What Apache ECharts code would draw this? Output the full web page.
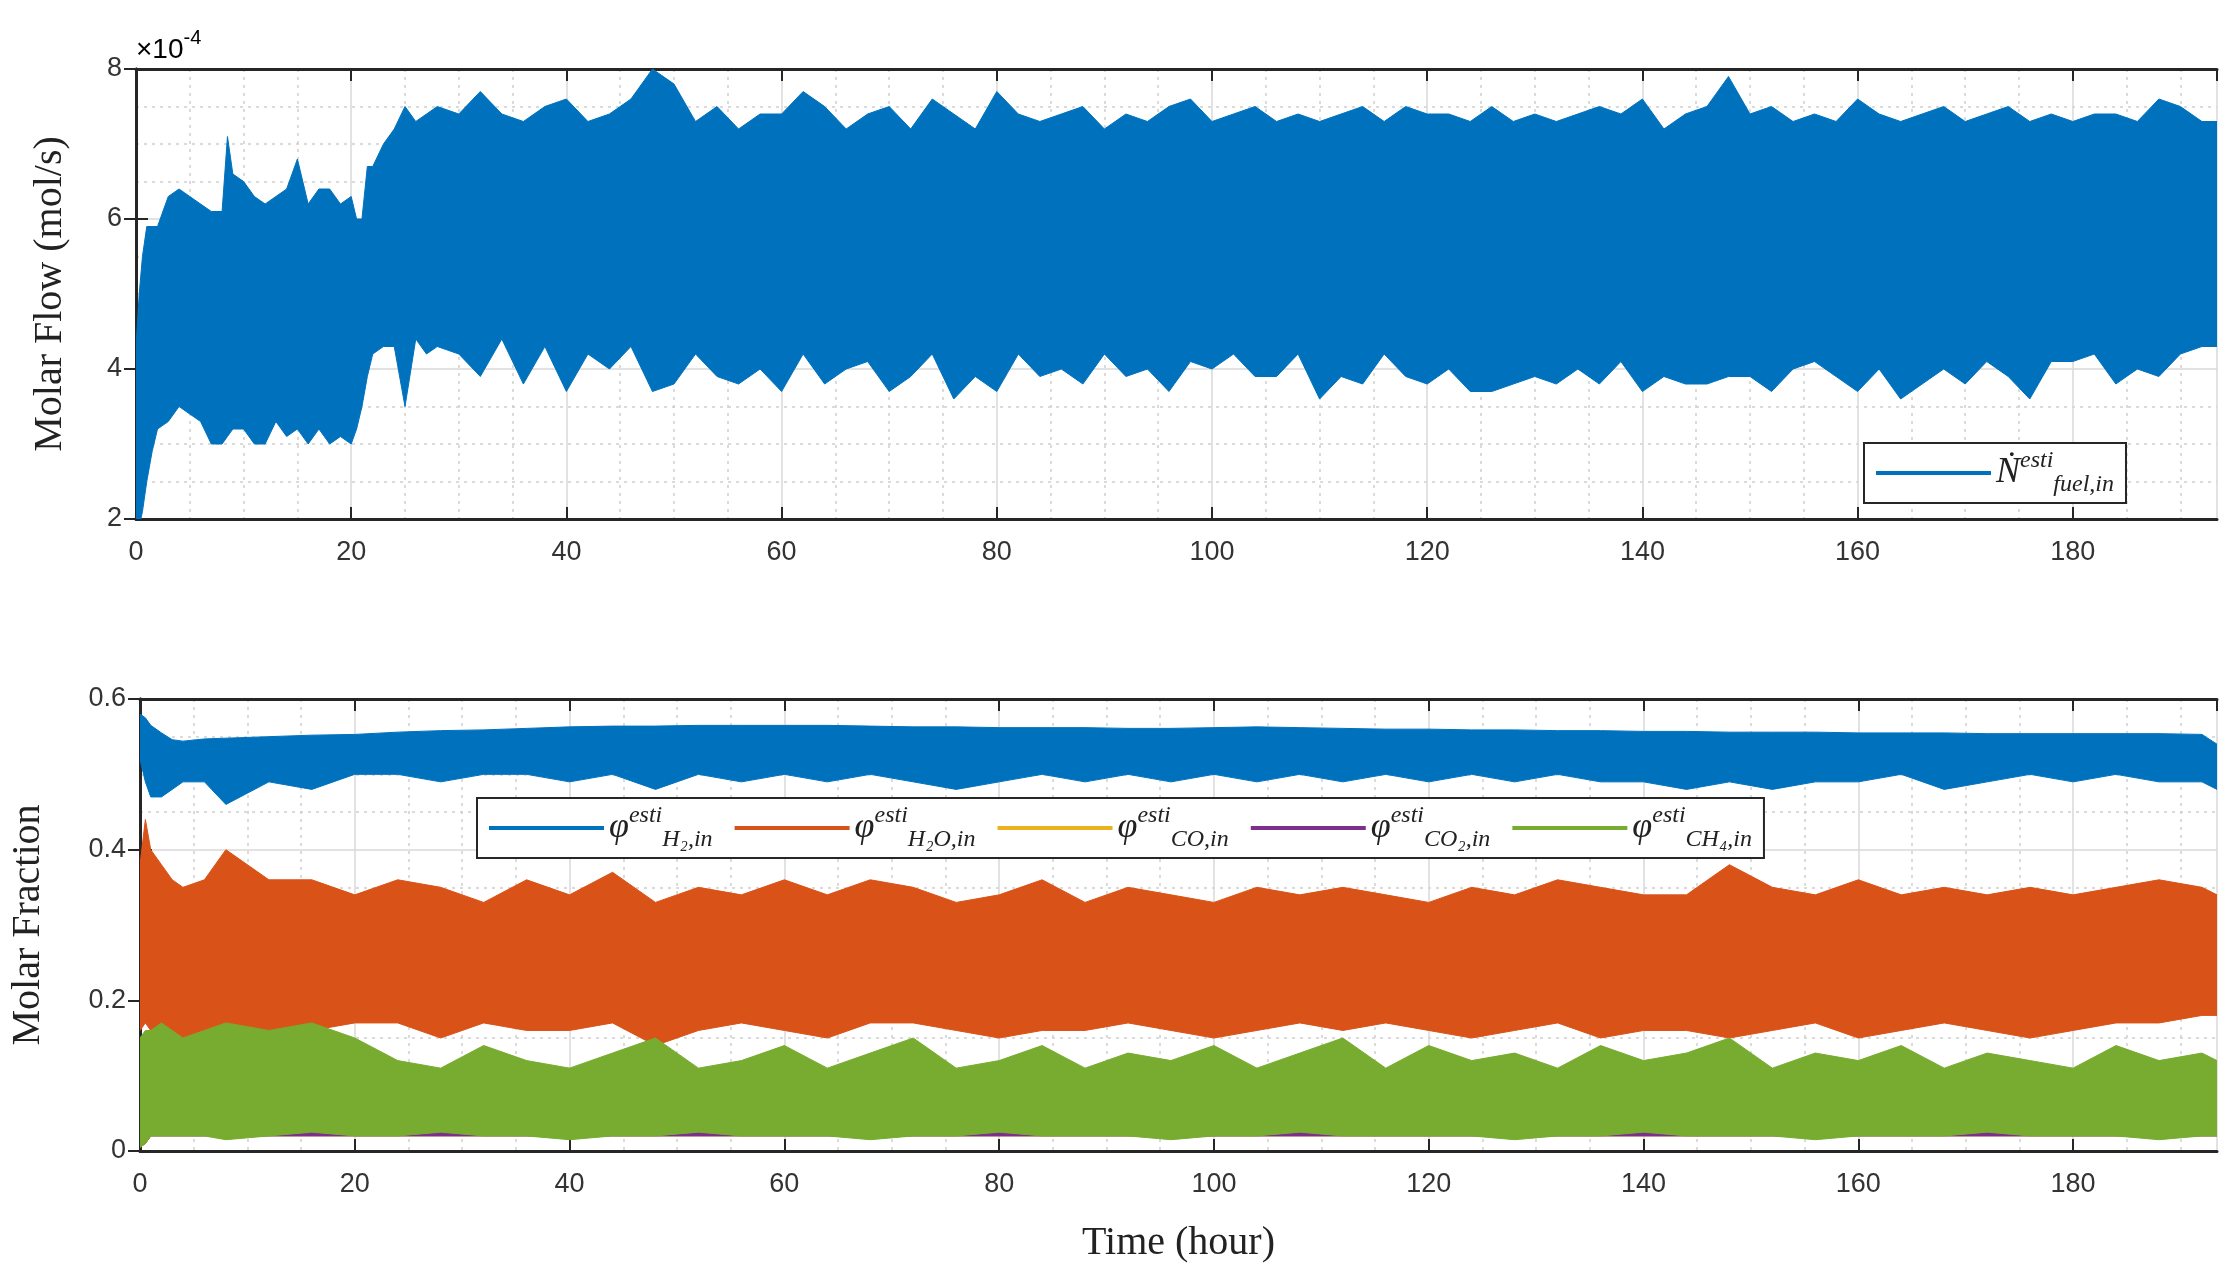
<!DOCTYPE html>
<html>
<head>
<meta charset="utf-8">
<script src="https://cdn.jsdelivr.net/npm/echarts@6/dist/echarts.min.js"></script>
<style>
html,body{margin:0;padding:0;background:#fff;}
#chart{width:2236px;height:1279px;}
</style>
</head>
<body>
<div id="chart"></div>
<script>
// top panel: fuel molar flow envelope (x 1e-4 mol/s)
var tFuel=[0,0.3,0.6,1,1.5,2,3,4,5,6,7,8,8.5,9,10,11,12,13,14,15,16,17,18,19,20,20.5,21,21.5,22,23,24,25,26,27,
28,30,32,34,36,38,40,42,44,46,48,50,52,54,56,58,60,62,64,66,68,70,72,74,76,78,80,82,84,86,88,90,92,94,96,98,
100,102,104,106,108,110,112,114,116,118,120,122,124,126,128,130,132,134,136,138,140,142,144,146,148,150,152,154,156,158,
160,162,164,166,168,170,172,174,176,178,180,182,184,186,188,190,192,193.4];
var fuelHi=[4.3,5.0,5.5,5.9,5.9,5.9,6.3,6.4,6.3,6.2,6.1,6.1,7.1,6.6,6.5,6.3,6.2,6.3,6.4,6.8,6.2,6.4,6.4,6.2,6.3,6.0,6.0,6.7,6.7,7.0,7.2,7.5,7.3,7.4,
7.5,7.4,7.7,7.4,7.3,7.5,7.6,7.3,7.4,7.6,8.0,7.8,7.3,7.5,7.2,7.4,7.4,7.7,7.5,7.2,7.4,7.5,7.2,7.6,7.4,7.2,7.7,7.4,7.3,7.4,7.5,7.2,7.4,7.3,7.5,7.6,
7.3,7.4,7.5,7.3,7.4,7.3,7.4,7.5,7.3,7.5,7.4,7.4,7.3,7.5,7.3,7.4,7.3,7.4,7.5,7.4,7.6,7.2,7.4,7.5,7.9,7.4,7.5,7.3,7.4,7.3,
7.6,7.4,7.3,7.4,7.5,7.3,7.4,7.5,7.3,7.4,7.3,7.4,7.4,7.3,7.6,7.5,7.3,7.3];
var fuelLo=[2.0,1.9,2.1,2.5,2.9,3.2,3.3,3.5,3.4,3.3,3.0,3.0,3.1,3.2,3.2,3.0,3.0,3.3,3.1,3.2,3.0,3.2,3.0,3.1,3.0,3.2,3.5,3.9,4.2,4.3,4.3,3.5,4.4,4.2,
4.3,4.2,3.9,4.4,3.8,4.3,3.7,4.2,4.0,4.3,3.7,3.8,4.2,3.9,3.8,4.0,3.7,4.2,3.8,4.0,4.1,3.7,3.9,4.2,3.6,3.9,3.7,4.2,3.9,4.0,3.8,4.2,3.9,4.0,3.7,4.1,
4.0,4.2,3.9,3.9,4.2,3.6,3.9,3.8,4.2,3.9,3.8,4.0,3.7,3.7,3.8,3.9,3.8,4.0,3.8,4.1,3.7,3.9,3.8,3.8,3.9,3.9,3.7,4.0,4.1,3.9,
3.7,4.0,3.6,3.8,4.0,3.8,4.1,3.9,3.6,4.1,4.1,4.2,3.8,4.0,3.9,4.2,4.3,4.3];

// bottom panel: molar fraction envelopes
var tFrac=[0,0.5,1,2,3,4,6,8,12,16,20,24,28,32,36,40,44,48,52,56,60,64,68,72,76,80,84,88,92,96,100,104,108,112,116,120,
124,128,132,136,140,144,148,152,156,160,164,168,172,176,180,184,188,192,193.4];
var h2Hi=[0.58,0.575,0.565,0.555,0.546,0.544,0.547,0.548,0.55,0.552,0.553,0.556,0.558,0.559,0.561,0.563,0.564,0.564,0.565,0.565,0.565,0.565,0.564,0.563,0.563,0.562,0.562,0.562,0.561,0.561,0.562,0.563,0.562,0.561,0.56,0.56,
0.559,0.559,0.558,0.558,0.557,0.557,0.556,0.556,0.556,0.555,0.555,0.555,0.554,0.554,0.554,0.554,0.554,0.553,0.54];
var h2Lo=[0.52,0.49,0.47,0.47,0.48,0.49,0.49,0.46,0.49,0.48,0.5,0.5,0.49,0.5,0.5,0.49,0.5,0.48,0.5,0.49,0.5,0.49,0.5,0.49,0.48,0.49,0.5,0.49,0.5,0.49,0.5,0.49,0.5,0.49,0.5,0.49,
0.5,0.49,0.5,0.49,0.49,0.48,0.49,0.48,0.49,0.49,0.5,0.48,0.49,0.5,0.49,0.5,0.49,0.49,0.48];
var h2oHi=[0.38,0.44,0.4,0.38,0.36,0.35,0.36,0.4,0.36,0.36,0.34,0.36,0.35,0.33,0.36,0.34,0.37,0.33,0.35,0.34,0.36,0.34,0.36,0.35,0.33,0.34,0.36,0.33,0.35,0.34,0.33,0.35,0.34,0.35,0.34,0.33,
0.35,0.34,0.36,0.35,0.34,0.34,0.38,0.35,0.34,0.36,0.34,0.35,0.34,0.35,0.34,0.35,0.36,0.35,0.34];
var h2oLo=[0.16,0.17,0.16,0.16,0.15,0.15,0.16,0.16,0.15,0.16,0.17,0.17,0.15,0.17,0.16,0.16,0.17,0.14,0.16,0.17,0.16,0.15,0.17,0.17,0.16,0.15,0.16,0.16,0.17,0.16,0.15,0.16,0.17,0.16,0.17,0.16,
0.15,0.16,0.17,0.15,0.16,0.16,0.15,0.16,0.17,0.15,0.16,0.17,0.16,0.15,0.16,0.17,0.17,0.18,0.18];
var coHi=[0.14,0.15,0.15,0.15,0.14,0.14,0.14,0.14,0.14,0.14,0.14,0.11,0.105,0.105,0.105,0.11,0.105,0.105,0.105,0.105,0.105,0.105,0.11,0.105,0.105,0.105,0.105,0.105,0.105,0.105,0.105,0.11,0.105,0.105,0.105,0.105,
0.105,0.11,0.105,0.105,0.105,0.105,0.105,0.105,0.105,0.105,0.105,0.105,0.105,0.105,0.105,0.105,0.105,0.105,0.1];
var coLo=[0.005,0.01,0.02,0.02,0.02,0.02,0.02,0.02,0.02,0.02,0.02,0.02,0.02,0.02,0.02,0.02,0.02,0.02,0.02,0.02,0.02,0.02,0.02,0.02,0.02,0.02,0.02,0.02,0.02,0.02,0.02,0.02,0.02,0.02,0.02,0.02,
0.02,0.02,0.02,0.02,0.02,0.02,0.02,0.02,0.02,0.02,0.02,0.02,0.02,0.02,0.02,0.02,0.02,0.02,0.02];
var co2Hi=[0.08,0.08,0.08,0.08,0.08,0.08,0.08,0.08,0.08,0.08,0.08,0.08,0.08,0.08,0.08,0.08,0.08,0.08,0.08,0.08,0.08,0.08,0.08,0.08,0.08,0.08,0.08,0.08,0.08,0.08,0.08,0.08,0.08,0.08,0.08,0.08,
0.08,0.08,0.08,0.08,0.08,0.08,0.08,0.08,0.08,0.08,0.08,0.08,0.08,0.08,0.08,0.08,0.08,0.08,0.08];
var ch4Hi=[0.15,0.16,0.16,0.17,0.16,0.15,0.16,0.17,0.16,0.17,0.15,0.12,0.11,0.14,0.12,0.11,0.13,0.15,0.11,0.12,0.14,0.11,0.13,0.15,0.11,0.12,0.14,0.11,0.13,0.12,0.14,0.11,0.13,0.15,0.11,0.14,
0.12,0.13,0.11,0.14,0.12,0.13,0.15,0.11,0.13,0.12,0.14,0.11,0.13,0.12,0.11,0.14,0.12,0.13,0.12];
var ch4Lo=[0.005,0.01,0.02,0.02,0.02,0.02,0.02,0.015,0.02,0.025,0.02,0.02,0.025,0.02,0.02,0.015,0.02,0.02,0.025,0.02,0.02,0.02,0.015,0.02,0.02,0.025,0.02,0.02,0.02,0.015,0.02,0.02,0.025,0.02,0.02,0.02,
0.02,0.015,0.02,0.02,0.025,0.02,0.02,0.02,0.015,0.02,0.02,0.02,0.025,0.02,0.02,0.02,0.015,0.02,0.02];

var chart=echarts.init(document.getElementById("chart"));
var AX="#262626";
var tickFont={fontFamily:"Liberation Sans",fontSize:27,color:"#333"};

// envelope band drawn as one polygon through the axis scales
var band=function (name,t,hi,lo,color,axisIdx) {
    return {name:name,type:"custom",xAxisIndex:axisIdx,yAxisIndex:axisIdx,
        color:color,itemStyle:{color:color},silent:true,clip:true,
        data:[[t[0],lo[0]]],
        encode:{x:0,y:1},
        renderItem:function (params,api) {
            var pts=[],i;
            for(i=0;i<t.length;i++){pts.push(api.coord([t[i],hi[i]]));}
            for(i=t.length-1;i>=0;i--){pts.push(api.coord([t[i],lo[i]]));}
            return {type:"polygon",shape:{points:pts},style:{fill:color,stroke:color,lineWidth:1}};
        }};
};

var mkX=function (gridIdx,pos,showLabel,name) {
    return {type:"value",gridIndex:gridIdx,position:pos,min:0,max:193.4,interval:20,
        name:name||"",nameLocation:"middle",nameGap:72,
        nameTextStyle:{fontFamily:"Liberation Serif",fontSize:40,color:"#222"},
        axisLine:{show:true,onZero:false,lineStyle:{color:AX,width:3}},
        axisTick:{show:true,inside:true,length:12,lineStyle:{color:AX,width:2}},
        axisLabel:{show:showLabel,margin:20,showMaxLabel:false,fontFamily:tickFont.fontFamily,fontSize:tickFont.fontSize,color:tickFont.color},
        splitLine:{show:pos==="bottom",lineStyle:{color:"#d9d9d9",width:1.5}},
        minorTick:{show:false,splitNumber:4},
        minorSplitLine:{show:pos==="bottom",lineStyle:{color:"#d0d0d0",type:[3,5],width:1.5}}};
};
var mkY=function (gridIdx,pos,min,max,interval,showLabel,name,gap) {
    return {type:"value",gridIndex:gridIdx,position:pos,min:min,max:max,interval:interval,
        name:name||"",nameLocation:"middle",nameGap:gap||60,
        nameTextStyle:{fontFamily:"Liberation Serif",fontSize:40,color:"#222"},
        axisLine:{show:true,lineStyle:{color:AX,width:3}},
        axisTick:{show:true,inside:true,length:12,lineStyle:{color:AX,width:2}},
        axisLabel:{show:showLabel,margin:14,fontFamily:tickFont.fontFamily,fontSize:tickFont.fontSize,color:tickFont.color},
        splitLine:{show:pos==="left",lineStyle:{color:"#d9d9d9",width:1.5}},
        minorTick:{show:false,splitNumber:4},
        minorSplitLine:{show:pos==="left",lineStyle:{color:"#d0d0d0",type:[3,5],width:1.5}}};
};

var legendRich={
    p:{fontFamily:"Liberation Serif",fontStyle:"italic",fontSize:36,color:"#222",verticalAlign:"middle"},
    sup:{fontFamily:"Liberation Serif",fontStyle:"italic",fontSize:24,color:"#222",verticalAlign:"top",lineHeight:48},
    sub:{fontFamily:"Liberation Serif",fontStyle:"italic",fontSize:24,color:"#222",verticalAlign:"bottom",lineHeight:48}
};
var legendLabels={
    "fuel":"{p|N\u0307}{sup|esti}{sub|fuel,in}",
    "H2":"{p|\u03c6}{sup|esti}{sub|H\u2082,in}",
    "H2O":"{p|\u03c6}{sup|esti}{sub|H\u2082O,in}",
    "CO":"{p|\u03c6}{sup|esti}{sub|CO,in}",
    "CO2":"{p|\u03c6}{sup|esti}{sub|CO\u2082,in}",
    "CH4":"{p|\u03c6}{sup|esti}{sub|CH\u2084,in}"
};

var series=[
    band("fuel",tFuel,fuelHi,fuelLo,"#0072BD",0),
    band("H2",tFrac,h2Hi,h2Lo,"#0072BD",1),
    band("H2O",tFrac,h2oHi,h2oLo,"#D95319",1),
    band("CO",tFrac,coHi,coLo,"#EDB120",1),
    band("CO2",tFrac,co2Hi,coLo,"#7E2F8E",1),
    band("CH4",tFrac,ch4Hi,ch4Lo,"#77AC30",1)
];

var option={
    animation:false,
    backgroundColor:"#fff",
    grid:[
        {left:136,right:19,top:69,height:450},
        {left:136,right:19,top:699,height:452}
    ],
    xAxis:[
        mkX(0,"bottom",true),
        mkX(1,"bottom",true,"Time (hour)"),
        mkX(0,"top",false),
        mkX(1,"top",false)
    ],
    yAxis:[
        mkY(0,"left",2,8,2,true,"Molar Flow (mol/s)",66),
        mkY(1,"left",0,0.6,0.2,true,"Molar Fraction",92),
        mkY(0,"right",2,8,2,false),
        mkY(1,"right",0,0.6,0.2,false)
    ],
    legend:[
        {data:["fuel"],left:1864,top:443,orient:"horizontal",
            icon:"rect",itemWidth:115,itemHeight:4,
            backgroundColor:"#fff",borderColor:AX,borderWidth:2,borderRadius:0,padding:[6,12],
            formatter:function (n) {return legendLabels[n];},textStyle:{rich:legendRich}},
        {data:["H2","H2O","CO","CO2","CH4"],left:477,top:798,orient:"horizontal",
            icon:"rect",itemWidth:115,itemHeight:4,itemGap:22,
            backgroundColor:"#fff",borderColor:AX,borderWidth:2,borderRadius:0,padding:[6,12],
            formatter:function (n) {return legendLabels[n];},textStyle:{rich:legendRich}}
    ],
    graphic:[
        {type:"text",left:136,top:28,style:{text:"{a|\u00d710}{b|-4}",
            rich:{a:{fontFamily:"Liberation Sans",fontSize:28,color:"#333",verticalAlign:"bottom",lineHeight:36},
                  b:{fontFamily:"Liberation Sans",fontSize:20,color:"#333",verticalAlign:"top",lineHeight:36}}}}
    ],
    series:series
};
chart.setOption(option);
</script>
</body>
</html>
